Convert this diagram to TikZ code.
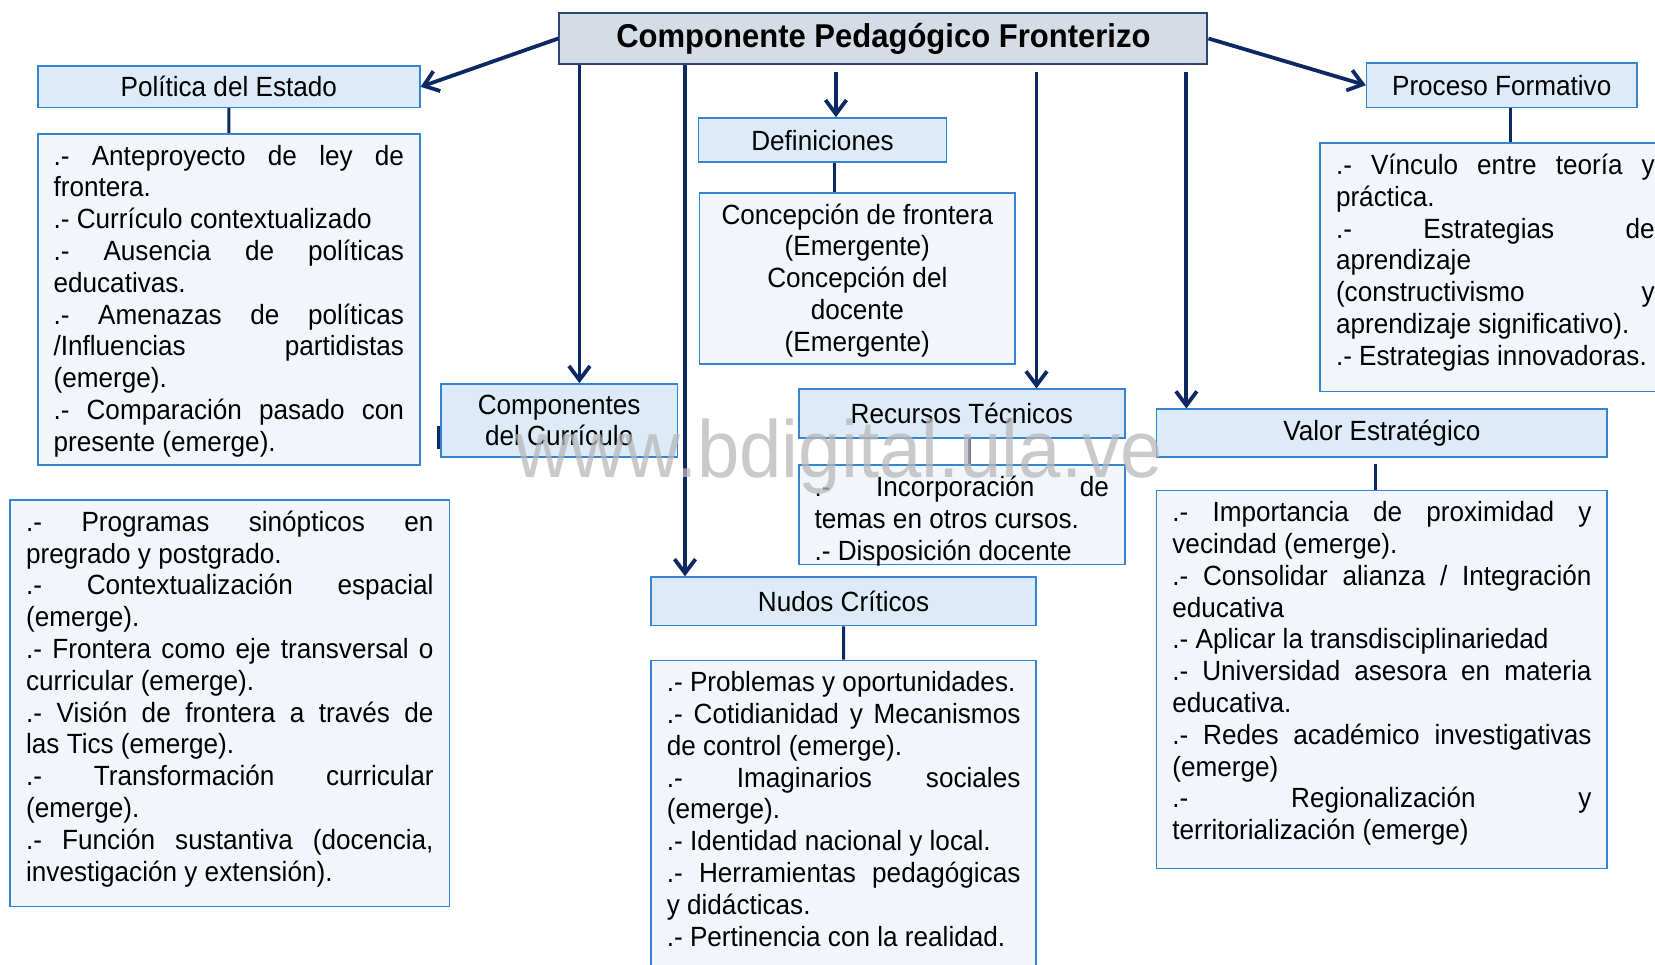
\documentclass[tikz,border=0pt]{standalone}
\usepackage{fontspec}
\setmainfont{Liberation Sans}[FakeStretch=0.94]
\usetikzlibrary{arrows.meta}

\definecolor{navy}{RGB}{14,40,99}
\definecolor{titleline}{RGB}{47,69,115}
\definecolor{titlefill}{RGB}{214,220,229}
\definecolor{headline}{RGB}{52,132,210}
\definecolor{headfill}{RGB}{221,234,247}
\definecolor{contfill}{RGB}{242,246,251}

\newdimen\pxu \pxu=0.5278pt
\newcommand{\bodyfont}{\fontsize{13.9}{15.9}\selectfont}
\newcommand{\jl}[1]{\makebox[\linewidth][s]{#1}\par}
\newcommand{\boxtext}[3]{\parbox[t][\dimexpr#2\pxu-9pt\relax][t]{\dimexpr#1\pxu-30\pxu\relax}{\strut#3}}

\tikzset{
  boxsize/.style 2 args={minimum width=#1*0.5278pt, minimum height=#2*0.5278pt},
  maintitle/.style={draw=titleline, fill=titlefill, line width=1pt, anchor=north west,
    font=\bfseries\fontsize{16.5}{19}\selectfont, boxsize={614}{49}},
  head/.style={draw=headline, fill=headfill, line width=0.8pt, anchor=north west,
    font=\bodyfont, align=center},
  content/.style={draw=headline, fill=contfill, line width=0.8pt, anchor=north west,
    font=\bodyfont, inner xsep=7.92pt, inner ysep=4.5pt},
  arr/.style={navy, line width=1.9pt, -{Straight Barb[length=7pt,width=10.5pt]}},
  link/.style={navy, line width=1.5pt}
}

\begin{document}
\begin{tikzpicture}[x=0.5278pt, y=-0.5278pt]
\useasboundingbox (0,0) rectangle (1568,914);

\node (cpf) [maintitle] at (529,11) {Componente Pedagógico Fronterizo};

% left side
\node (pol) [head, boxsize={362}{39}] at (35,62) {Política del Estado};
\node (polc) [content] at (35,126) {\boxtext{362}{314}{%
\jl{.- Anteproyecto de ley de}
frontera.\par
.- Currículo contextualizado\par
\jl{.- Ausencia de políticas}
educativas.\par
\jl{.- Amenazas de políticas}
\jl{/Influencias partidistas}
(emerge).\par
\jl{.- Comparación pasado con}
presente (emerge).}};

\node (comp) [head, boxsize={224}{69}] at (417,363) {Componentes\\del Currículo};
\node (compc) [content] at (9,473) {\boxtext{416}{385}{%
\jl{.- Programas sinópticos en}
pregrado y postgrado.\par
\jl{.- Contextualización espacial}
(emerge).\par
\jl{.- Frontera como eje transversal o}
curricular (emerge).\par
\jl{.- Visión de frontera a través de}
las Tics (emerge).\par
\jl{.- Transformación curricular}
(emerge).\par
\jl{.- Función sustantiva (docencia,}
investigación y extensión).}};

% middle
\node (defi) [head, boxsize={235}{42}] at (661,111) {Definiciones};
\node (defic) [content] at (662,182) {\boxtext{299}{162}{\centering
Concepción de frontera\par
(Emergente)\par
Concepción del\par
docente\par
(Emergente)}};

\node (rec) [head, boxsize={309}{46}] at (756,368) {Recursos Técnicos};
\node (recc) [content] at (756,440) {\boxtext{309}{94}{%
\jl{.- Incorporación de}
temas en otros cursos.\par
.- Disposición docente}};

\node (nud) [head, boxsize={365}{46}] at (616,546) {Nudos Críticos};
\node (nudc) [content] at (616,625) {\boxtext{365}{310}{%
.- Problemas y oportunidades.\par
\jl{.- Cotidianidad y Mecanismos}
de control (emerge).\par
\jl{.- Imaginarios sociales}
(emerge).\par
.- Identidad nacional y local.\par
\jl{.- Herramientas pedagógicas}
y didácticas.\par
.- Pertinencia con la realidad.}};

% right side
\node (proc) [head, boxsize={256}{42}] at (1294,59) {Proceso Formativo};
\node (procc) [content] at (1250,135) {\boxtext{332}{235}{%
\jl{.- Vínculo entre teoría y}
práctica.\par
\jl{.- Estrategias de}
aprendizaje\par
\jl{(constructivismo y}
aprendizaje significativo).\par
.- Estrategias innovadoras.}};

\node (val) [head, boxsize={427}{45}] at (1095,387) {Valor Estratégico};
\node (valc) [content] at (1095,464) {\boxtext{427}{358}{%
\jl{.- Importancia de proximidad y}
vecindad (emerge).\par
\jl{.- Consolidar alianza / Integración}
educativa\par
.- Aplicar la transdisciplinariedad\par
\jl{.- Universidad asesora en materia}
educativa.\par
\jl{.- Redes académico investigativas}
(emerge)\par
\jl{.- Regionalización y}
territorialización (emerge)}};

% arrows from the title
\draw[arr] (cpf.west) -- (pol.east);
\draw[arr] (cpf.east) -- (proc.west);
\draw[arr] ([shift={(20,0)}]cpf.south west) coordinate (a1) -- (a1 |- comp.north);
\draw[arr] ([shift={(120,0)}]cpf.south west) coordinate (a2) -- (a2 |- nud.north);
\draw[arr] ([shift={(263,6)}]cpf.south west) coordinate (a3) -- (a3 |- defi.north);
\draw[arr] ([shift={(453,6)}]cpf.south west) coordinate (a4) -- (a4 |- rec.north);
\draw[arr] ([shift={(595,6)}]cpf.south west) coordinate (a5) -- (a5 |- val.north);

% headers to their lists
\draw[link] (pol) -- (polc);
\draw[link] (nud) -- (nudc);
\draw[link] ([shift={(11.5,0)}]defi.south) coordinate (b1) -- (b1 |- defic.north);
\draw[link] ([shift={(7.5,0)}]rec.south) coordinate (b2) -- (b2 |- recc.north);
\draw[link] ([shift={(8,0)}]proc.south) coordinate (b3) -- (b3 |- procc.north);
\draw[link] ([shift={(-6.5,6)}]val.south) coordinate (b4) -- (b4 |- valc.north);
\draw[link] ([shift={(-2,5.5)}]comp.west) -- ([shift={(-2,27.5)}]comp.west);

% watermark
\node (wm) [anchor=base, text=black!28, opacity=0.75, font=\fontsize{40.5}{40}\selectfont]
  at (795,452) {www.bdigital.ula.ve};
\end{tikzpicture}
\end{document}
